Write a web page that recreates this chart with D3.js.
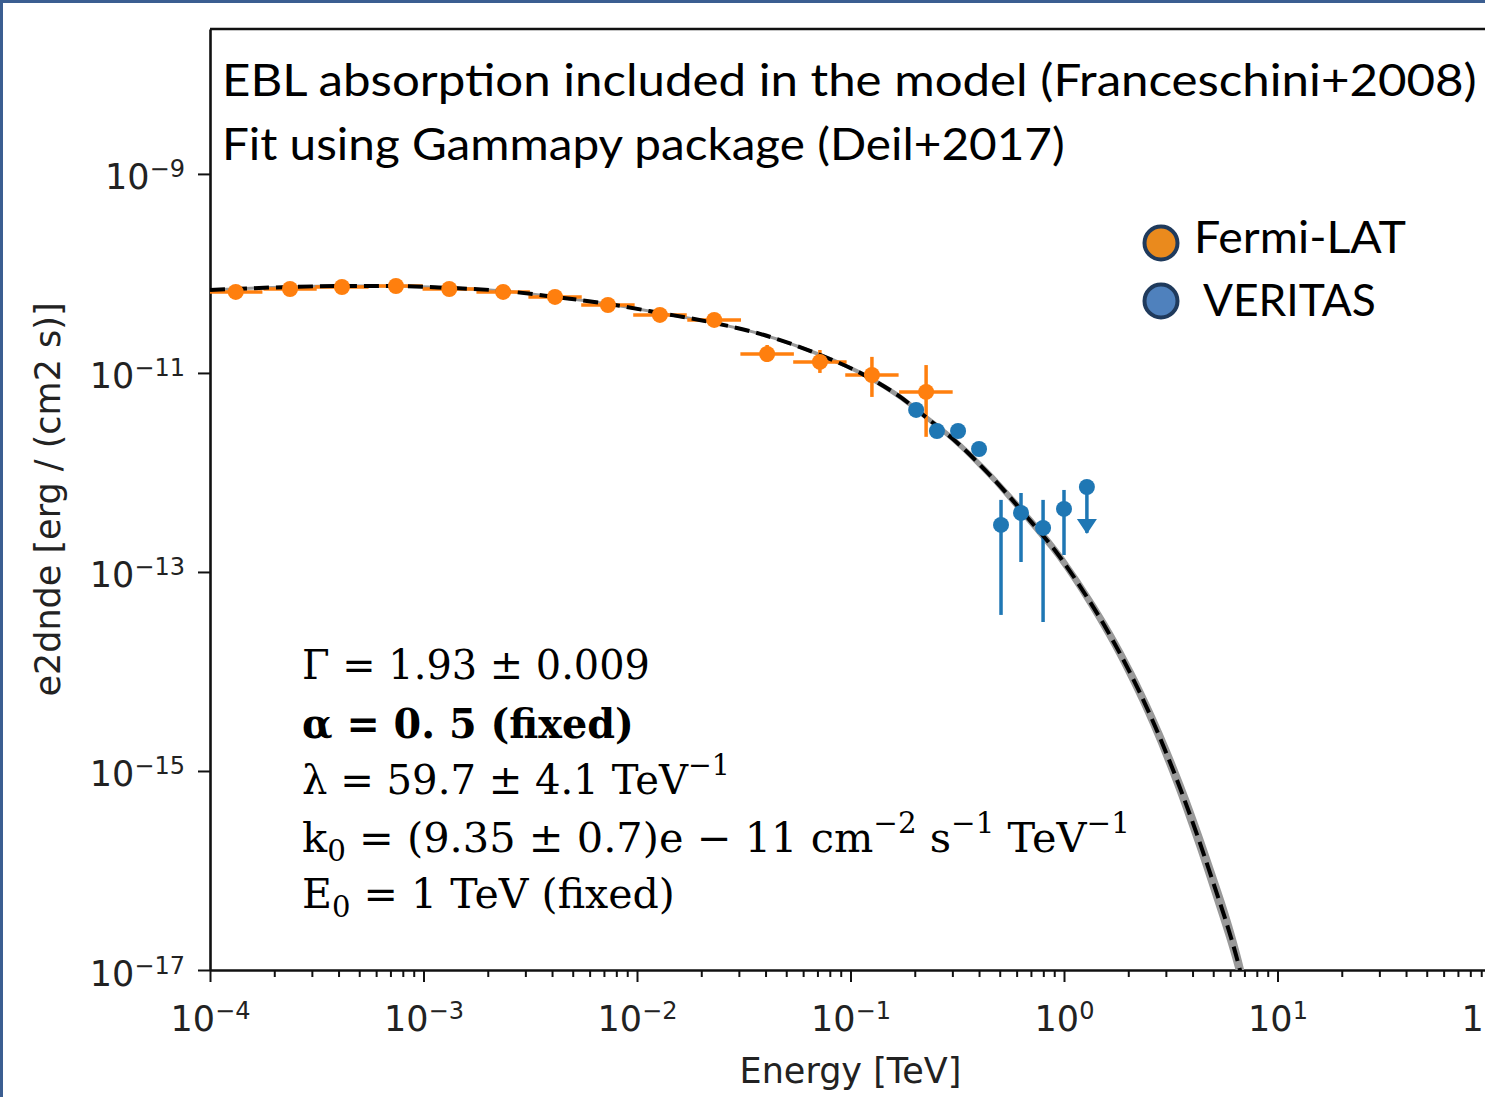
<!DOCTYPE html>
<html>
<head>
<meta charset="utf-8">
<title>EBL absorbed spectrum fit</title>
<script src="https://cdn.jsdelivr.net/npm/d3@7"></script>
<style>
  body { margin: 0; background: #fff; }
  svg { display: block; }
</style>
</head>
<body>
<div id="chart"></div>
<script>
// fermi-lat flux points (TeV, erg / cm2 s)
const fermiEnergy = [1.32e-4, 2.37e-4, 4.15e-4, 7.43e-4, 1.32e-3, 2.36e-3, 4.13e-3, 7.31e-3, 1.28e-2, 2.30e-2, 4.07e-2, 7.19e-2, 0.126, 0.226];
const fermiEmin = [1.0e-4, 1.78e-4, 3.11e-4, 5.57e-4, 0.99e-3, 1.77e-3, 3.10e-3, 5.48e-3, 0.96e-2, 1.72e-2, 3.05e-2, 5.39e-2, 0.0945, 0.169];
const fermiEmax = [1.76e-4, 3.16e-4, 5.53e-4, 9.91e-4, 1.76e-3, 3.15e-3, 5.51e-3, 9.75e-3, 1.71e-2, 3.07e-2, 5.43e-2, 9.59e-2, 0.168, 0.301];
const fermiFlux = [6.52e-11, 6.98e-11, 7.31e-11, 7.48e-11, 6.98e-11, 6.52e-11, 5.81e-11, 4.82e-11, 3.83e-11, 3.41e-11, 1.55e-11, 1.29e-11, 9.54e-12, 6.44e-12];
const fermiFluxLo = [6.1e-11, 6.6e-11, 6.9e-11, 7.1e-11, 6.6e-11, 6.1e-11, 5.4e-11, 4.5e-11, 3.55e-11, 3.1e-11, 1.29e-11, 1.0e-11, 5.74e-12, 2.28e-12];
const fermiFluxHi = [6.95e-11, 7.4e-11, 7.75e-11, 7.9e-11, 7.4e-11, 6.95e-11, 6.25e-11, 5.2e-11, 4.15e-11, 3.75e-11, 1.91e-11, 1.70e-11, 1.45e-11, 1.20e-11];

// veritas flux points, last one is an upper limit
const veritasEnergy = [0.203, 0.254, 0.319, 0.400, 0.507, 0.629, 0.798, 1.0, 1.28];
const veritasFlux = [4.25e-12, 2.61e-12, 2.61e-12, 1.72e-12, 2.97e-13, 3.92e-13, 2.77e-13, 4.30e-13, 7.14e-13];
const veritasFluxLo = [3.9e-12, 2.4e-12, 2.4e-12, 1.55e-12, 3.70e-14, 1.26e-13, 3.14e-14, 1.48e-13, 2.47e-13];
const veritasFluxHi = [4.6e-12, 2.8e-12, 2.8e-12, 1.9e-12, 5.30e-13, 6.22e-13, 5.30e-13, 6.67e-13, 7.14e-13];
const veritasIsUL = [false, false, false, false, false, false, false, false, true];

// best-fit model and its error band (half width in dex)
const modelEnergy = [1e-4, 2.37e-4, 4.15e-4, 7.43e-4, 1.32e-3, 2.36e-3, 4.13e-3, 7.31e-3, 1.28e-2, 2.30e-2, 3.77e-2, 7.19e-2, 0.123, 0.171, 0.228, 0.302, 0.436, 0.671, 0.927, 1.28, 1.59, 2.53, 3.61, 4.83, 6.67, 7.5];
const modelFlux = [6.82e-11, 7.31e-11, 7.48e-11, 7.48e-11, 7.15e-11, 6.67e-11, 5.81e-11, 4.94e-11, 4.01e-11, 3.18e-11, 2.47e-11, 1.52e-11, 8.91e-12, 5.74e-12, 3.53e-12, 2.17e-12, 1.01e-12, 3.57e-13, 1.55e-13, 5.61e-14, 2.61e-14, 3.66e-15, 5.61e-16, 9.44e-17, 1.0e-17, 3.5e-18];
const modelErrDex = [0.015, 0.015, 0.015, 0.015, 0.015, 0.015, 0.015, 0.015, 0.015, 0.015, 0.015, 0.02, 0.025, 0.03, 0.03, 0.035, 0.04, 0.05, 0.055, 0.065, 0.075, 0.1, 0.13, 0.15, 0.17, 0.18];

// axes
const xDomain = [1e-4, 1e2];
const yDomain = [1e-17, 2.86e-8];
const xTickExp = [-4, -3, -2, -1, 0, 1, 2];
const yTickExp = [-9, -11, -13, -15, -17];

// annotations
const titleLines = [
  "EBL absorption included in the model (Franceschini+2008)",
  "Fit using Gammapy package (Deil+2017)"
];
const legendNames = ["Fermi-LAT", "VERITAS"];
const legendColors = ["#ea8a1d", "#4f81bd"];

const W = 1485;
const H = 1097;
const plot = { left: 210, right: 1491, top: 29, bottom: 970 };
const orange = "#ff7f0e";
const blue = "#1f77b4";

const svg = d3.select("#chart")
  .append("svg")
  .attr("width", W)
  .attr("height", H);

// slide frame, only top and left edges are in view
svg.append("path")
  .attr("d", `M1.5,${H} V1.5 H${W}`)
  .attr("fill", "none")
  .attr("stroke", "#3b5e91")
  .attr("stroke-width", 3);

const x = d3.scaleLog().domain(xDomain).range([plot.left, plot.right]);
const y = d3.scaleLog().domain(yDomain).range([plot.bottom, plot.top]);

svg.append("clipPath")
  .attr("id", "plotclip")
  .append("rect")
  .attr("x", plot.left)
  .attr("y", plot.top)
  .attr("width", plot.right - plot.left)
  .attr("height", plot.bottom - plot.top);

// "10" with a superscript exponent
function powerLabel(text, exp, rise, small) {
  text.append("tspan").text("10");
  text.append("tspan")
    .attr("dy", -rise)
    .attr("font-size", small)
    .text(exp < 0 ? "\u2212" + (-exp) : String(exp));
}

// x axis
const xMajor = xTickExp.map((e) => Math.pow(10, e));
const xMinor = [];
xTickExp.slice(0, -1).forEach((e) => {
  d3.range(2, 10).forEach((k) => xMinor.push(k * Math.pow(10, e)));
});

const xAxis = svg.append("g")
  .attr("transform", `translate(0,${plot.bottom})`)
  .call(d3.axisBottom(x).tickValues(xMajor).tickFormat(() => "").tickSize(12).tickSizeOuter(0));

const xMinorAxis = svg.append("g")
  .attr("transform", `translate(0,${plot.bottom})`)
  .call(d3.axisBottom(x).tickValues(xMinor).tickFormat(() => "").tickSize(7).tickSizeOuter(0));
xMinorAxis.select(".domain").remove();

xAxis.selectAll(".tick text")
  .attr("y", 61)
  .attr("dy", null)
  .attr("font-family", "DejaVu Sans")
  .attr("font-size", 35)
  .attr("fill", "#222")
  .each(function (d) {
    powerLabel(d3.select(this), Math.round(Math.log10(d)), 12, 24);
  });

// y axis
const yMajor = yTickExp.map((e) => Math.pow(10, e));
const yAxis = svg.append("g")
  .attr("transform", `translate(${plot.left},0)`)
  .call(d3.axisLeft(y).tickValues(yMajor).tickFormat(() => "").tickSize(12).tickSizeOuter(0));

yAxis.selectAll(".tick text")
  .attr("x", -25)
  .attr("y", 15)
  .attr("dy", null)
  .attr("font-family", "DejaVu Sans")
  .attr("font-size", 35)
  .attr("fill", "#222")
  .each(function (d) {
    powerLabel(d3.select(this), Math.round(Math.log10(d)), 12, 24);
  });

svg.selectAll(".domain").attr("stroke", "#111").attr("stroke-width", 2.6);
svg.selectAll(".tick line").attr("stroke", "#111").attr("stroke-width", 2);

// top spine
svg.append("line")
  .attr("x1", plot.left)
  .attr("x2", plot.right)
  .attr("y1", plot.top)
  .attr("y2", plot.top)
  .attr("stroke", "#111")
  .attr("stroke-width", 2.6);

// axis titles
svg.append("text")
  .attr("x", (plot.left + plot.right) / 2)
  .attr("y", 1083)
  .attr("text-anchor", "middle")
  .attr("font-family", "DejaVu Sans")
  .attr("font-size", 35)
  .attr("fill", "#222")
  .text("Energy [TeV]");

svg.append("text")
  .attr("transform", `translate(60,${(plot.top + plot.bottom) / 2}) rotate(-90)`)
  .attr("text-anchor", "middle")
  .attr("font-family", "DejaVu Sans")
  .attr("font-size", 35)
  .attr("fill", "#222")
  .text("e2dnde [erg / (cm2 s)]");

const plotArea = svg.append("g").attr("clip-path", "url(#plotclip)");

// model band
const model = modelEnergy.map((e, i) => ({ e, f: modelFlux[i], err: modelErrDex[i] }));

plotArea.append("path")
  .datum(model)
  .attr("fill", "#999")
  .attr("d", d3.area()
    .curve(d3.curveMonotoneX)
    .x((d) => x(d.e))
    .y0((d) => y(d.f / Math.pow(10, d.err)))
    .y1((d) => y(d.f * Math.pow(10, d.err))));

// error bars
const fermi = fermiEnergy.map((e, i) => ({
  e, emin: fermiEmin[i], emax: fermiEmax[i],
  f: fermiFlux[i], lo: fermiFluxLo[i], hi: fermiFluxHi[i],
}));
const veritas = veritasEnergy.map((e, i) => ({
  e, f: veritasFlux[i], lo: veritasFluxLo[i], hi: veritasFluxHi[i], ul: veritasIsUL[i],
}));

const bars = plotArea.append("g").attr("stroke-width", 3.5);

bars.selectAll(".fx")
  .data(fermi)
  .enter()
  .append("line")
  .attr("x1", (d) => x(d.emin))
  .attr("x2", (d) => x(d.emax))
  .attr("y1", (d) => y(d.f))
  .attr("y2", (d) => y(d.f))
  .attr("stroke", orange);

bars.selectAll(".fy")
  .data(fermi)
  .enter()
  .append("line")
  .attr("x1", (d) => x(d.e))
  .attr("x2", (d) => x(d.e))
  .attr("y1", (d) => y(d.lo))
  .attr("y2", (d) => y(d.hi))
  .attr("stroke", orange);

bars.selectAll(".vy")
  .data(veritas)
  .enter()
  .append("line")
  .attr("x1", (d) => x(d.e))
  .attr("x2", (d) => x(d.e))
  .attr("y1", (d) => y(d.lo))
  .attr("y2", (d) => y(d.hi))
  .attr("stroke", blue);

// upper limit arrow heads
bars.selectAll(".ul")
  .data(veritas.filter((d) => d.ul))
  .enter()
  .append("path")
  .attr("d", (d) => {
    const cx = x(d.e);
    const cy = y(d.lo);
    return `M${cx - 10},${cy - 14} L${cx + 10},${cy - 14} L${cx},${cy + 1} Z`;
  })
  .attr("fill", blue)
  .attr("stroke", "none");

// model line
plotArea.append("path")
  .datum(model)
  .attr("fill", "none")
  .attr("stroke", "#000")
  .attr("stroke-width", 4)
  .attr("stroke-dasharray", "15,7")
  .attr("d", d3.line()
    .curve(d3.curveMonotoneX)
    .x((d) => x(d.e))
    .y((d) => y(d.f)));

// markers
plotArea.selectAll(".fm")
  .data(fermi)
  .enter()
  .append("circle")
  .attr("cx", (d) => x(d.e))
  .attr("cy", (d) => y(d.f))
  .attr("r", 8)
  .attr("fill", orange);

plotArea.selectAll(".vm")
  .data(veritas)
  .enter()
  .append("circle")
  .attr("cx", (d) => x(d.e))
  .attr("cy", (d) => y(d.f))
  .attr("r", 8)
  .attr("fill", blue);

// stretch a text horizontally to a target width
function stretchTo(sel, x0, width) {
  const w = sel.node().getBBox().width;
  if (w > 0) {
    sel.attr("transform", `translate(${x0},0) scale(${width / w},1) translate(${-x0},0)`);
  }
}

// header lines
const titleWidths = [1255, 843];
titleLines.forEach((line, i) => {
  const t = svg.append("text")
    .attr("x", 222)
    .attr("y", 96 + i * 64)
    .attr("font-family", "Lato")
    .attr("font-size", 45)
    .attr("fill", "#000")
    .text(line);
  stretchTo(t, 222, titleWidths[i]);
});

// legend
legendNames.forEach((name, i) => {
  const cy = 243 + i * 58;
  svg.append("circle")
    .attr("cx", 1161)
    .attr("cy", cy)
    .attr("r", 16.5)
    .attr("fill", legendColors[i])
    .attr("stroke", "#1f3a5c")
    .attr("stroke-width", 4);
  const t = svg.append("text")
    .attr("x", i === 0 ? 1194 : 1203)
    .attr("y", cy + 10 + i * 5)
    .attr("font-family", "Lato")
    .attr("font-size", 45)
    .attr("fill", "#000")
    .text(name);
  stretchTo(t, i === 0 ? 1194 : 1203, i === 0 ? 212 : 173);
});

// fit parameters
const params = svg.append("g")
  .attr("font-family", "DejaVu Serif")
  .attr("font-size", 41)
  .attr("fill", "#000");

function paramLine(yy, width, build) {
  const t = params.append("text").attr("x", 302).attr("y", yy);
  build(t);
  stretchTo(t, 302, width);
  return t;
}

function sup(t, s) {
  t.append("tspan").attr("dy", -19).attr("font-size", 29).text(s);
}

function sub(t, s) {
  t.append("tspan").attr("dy", 9).attr("font-size", 29).text(s);
}

paramLine(679, 348, (t) => t.text("\u0393 = 1.93 \u00b1 0.009"));

paramLine(738, 332, (t) => t.attr("font-weight", "bold").text("\u03b1 = 0. 5 (fixed)"));

paramLine(794, 428, (t) => {
  t.append("tspan").text("\u03bb = 59.7 \u00b1 4.1 TeV");
  sup(t, "\u22121");
});

paramLine(852, 828, (t) => {
  t.append("tspan").text("k");
  sub(t, "0");
  t.append("tspan").attr("dy", -9).text(" = (9.35 \u00b1 0.7)e \u2212 11 cm");
  sup(t, "\u22122");
  t.append("tspan").attr("dy", 19).text(" s");
  sup(t, "\u22121");
  t.append("tspan").attr("dy", 19).text(" TeV");
  sup(t, "\u22121");
});

paramLine(908, 373, (t) => {
  t.append("tspan").text("E");
  sub(t, "0");
  t.append("tspan").attr("dy", -9).text(" = 1 TeV (fixed)");
});
</script>
</body>
</html>
